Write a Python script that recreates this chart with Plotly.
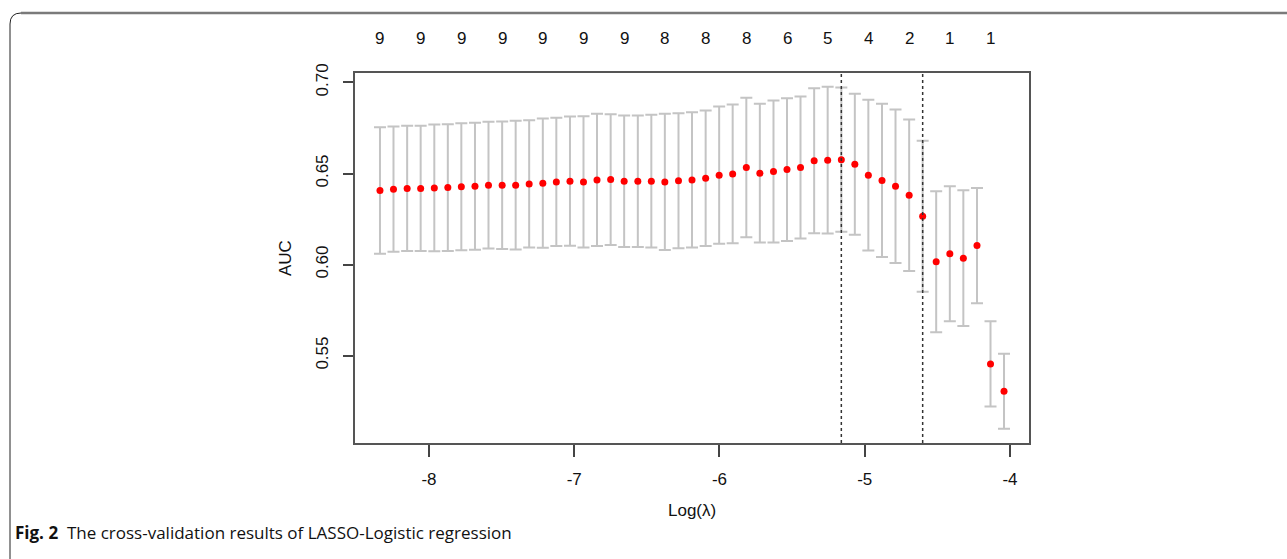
import plotly.graph_objects as go

# ---- data ----
log_lambda = [-8.337, -8.244, -8.150, -8.057, -7.963, -7.870, -7.777, -7.683, -7.590, -7.496,
              -7.403, -7.310, -7.216, -7.123, -7.029, -6.936, -6.843, -6.749, -6.656, -6.562,
              -6.469, -6.376, -6.282, -6.189, -6.095, -6.002, -5.909, -5.815, -5.722, -5.628,
              -5.535, -5.442, -5.348, -5.255, -5.161, -5.068, -4.975, -4.881, -4.788, -4.694,
              -4.601, -4.508, -4.414, -4.321, -4.227, -4.134, -4.041]
auc_mean = [0.6407, 0.6414, 0.6418, 0.6418, 0.6421, 0.6423, 0.6427, 0.6430, 0.6436, 0.6436,
            0.6436, 0.6443, 0.6447, 0.6454, 0.6458, 0.6454, 0.6465, 0.6467, 0.6458, 0.6458,
            0.6458, 0.6454, 0.6460, 0.6465, 0.6474, 0.6491, 0.6498, 0.6533, 0.6502, 0.6511,
            0.6522, 0.6533, 0.6570, 0.6573, 0.6576, 0.6551, 0.6491, 0.6462, 0.6430, 0.6381,
            0.6265, 0.6015, 0.6059, 0.6035, 0.6104, 0.5454, 0.5304]
auc_sd = [0.0347, 0.0344, 0.0344, 0.0344, 0.0348, 0.0348, 0.0349, 0.0349, 0.0348, 0.0350,
          0.0354, 0.0350, 0.0355, 0.0352, 0.0355, 0.0361, 0.0363, 0.0359, 0.0361, 0.0361,
          0.0365, 0.0374, 0.0371, 0.0372, 0.0372, 0.0377, 0.0381, 0.0383, 0.0381, 0.0390,
          0.0392, 0.0390, 0.0398, 0.0403, 0.0396, 0.0387, 0.0414, 0.0421, 0.0422, 0.0416,
          0.0415, 0.0387, 0.0371, 0.0373, 0.0316, 0.0234, 0.0206]
top_label_pos = [-8.337, -8.057, -7.777, -7.496, -7.216, -6.936, -6.656, -6.376,
                 -6.095, -5.815, -5.535, -5.255, -4.975, -4.694, -4.414, -4.134]
top_labels = ["9", "9", "9", "9", "9", "9", "9", "8", "8", "8", "6", "5", "4", "2", "1", "1"]
lambda_min = -5.161
lambda_1se = -4.601
x_ticks = [-8, -7, -6, -5, -4]
y_ticks = [0.55, 0.60, 0.65, 0.70]
y_ticktext = ["0.55", "0.60", "0.65", "0.70"]

# ---- layout geometry (pixels) ----
W, H = 1287, 559
L, R, T, B = 355, 1029, 73, 443
PW, PH = R - L, B - T


def px(xp):
    return (xp - L) / PW


def py(yp):
    return (B - yp) / PH


AXFONT = dict(family="Liberation Sans, Arial, sans-serif", size=17, color="#111111")

fig = go.Figure()
fig.add_trace(go.Scatter(
    x=log_lambda, y=auc_mean, mode="markers",
    marker=dict(color="#ff0000", size=7, line=dict(width=0)),
    error_y=dict(type="data", array=auc_sd, symmetric=True,
                 color="#c4c4c4", thickness=2, width=6),
    showlegend=False, hoverinfo="x+y",
))

shapes = []
for v in (lambda_min, lambda_1se):
    shapes.append(dict(type="line", xref="x", yref="paper", x0=v, x1=v, y0=0, y1=1,
                       line=dict(color="#333333", width=1.5, dash="dot")))
# outer figure box (top + left with rounded corner)
shapes.append(dict(type="path", xref="paper", yref="paper",
                   path=f"M {px(10)} {py(H + 5)} L {px(10)} {py(24)} Q {px(10)} {py(13)} {px(21)} {py(13)}",
                   line=dict(color="#222222", width=1)))
shapes.append(dict(type="line", xref="paper", yref="paper",
                   x0=px(21), x1=px(W + 5), y0=py(13), y1=py(13),
                   line=dict(color="#7a7a7a", width=2.5)))

annotations = []
for pos, lab in zip(top_label_pos, top_labels):
    annotations.append(dict(x=pos, y=1, xref="x", yref="paper", text=lab, showarrow=False,
                            yanchor="middle", yshift=35, font=AXFONT))
annotations.append(dict(x=px(285), y=py(258), xref="paper", yref="paper", text="AUC",
                        showarrow=False, textangle=-90, font=AXFONT,
                        xanchor="center", yanchor="middle"))
annotations.append(dict(x=px(692), y=py(510), xref="paper", yref="paper", text="Log(λ)",
                        showarrow=False, font=AXFONT, xanchor="center", yanchor="middle"))
annotations.append(dict(x=px(13), y=py(532), xref="paper", yref="paper",
                        text="<b>Fig. 2</b>  The cross-validation results of LASSO-Logistic regression",
                        showarrow=False, xanchor="left", yanchor="middle",
                        font=dict(family="Open Sans, Noto Sans, sans-serif", size=17, color="#111111")))

fig.update_layout(
    width=W, height=H,
    margin=dict(l=L, r=W - R, t=T, b=H - B, pad=0),
    paper_bgcolor="white", plot_bgcolor="white",
    shapes=shapes, annotations=annotations,
    xaxis=dict(range=[-8.509, -3.869], tickvals=x_ticks, ticktext=[str(t) for t in x_ticks],
               ticks="outside", ticklen=12, tickwidth=1.5, tickcolor="#444444",
               showline=True, linecolor="#555555", linewidth=2, mirror=True,
               showgrid=False, zeroline=False, tickfont=AXFONT, ticklabelstandoff=8),
    yaxis=dict(range=[0.5020, 0.7052], tickvals=y_ticks, ticktext=y_ticktext,
               ticks="outside", ticklen=10, tickwidth=1.5, tickcolor="#444444",
               showline=True, linecolor="#555555", linewidth=2, mirror=True,
               showgrid=False, zeroline=False, tickfont=AXFONT, tickangle=-90,
               ticklabelstandoff=8),
)

fig.write_html("out.html")
